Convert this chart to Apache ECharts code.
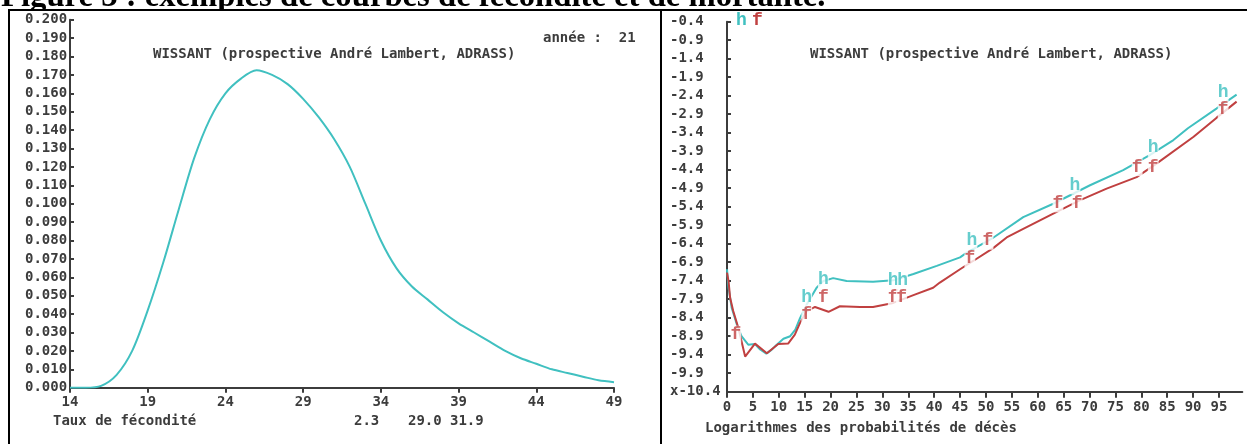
<!DOCTYPE html>
<html>
<head>
<meta charset="utf-8">
<script src="https://cdn.jsdelivr.net/npm/echarts@6/dist/echarts.min.js"></script>
<style>
  html, body { margin: 0; padding: 0; background: #fff; }
  #chart { width: 1247px; height: 444px; }
</style>
</head>
<body>
<div id="chart"></div>
<script>
// Fécondité : taux par âge (14 à 49 ans)
const fertAges = [14, 15, 16, 17, 18, 19, 20, 21, 22, 23, 24, 25, 26, 27, 28, 29, 30, 31,
                  32, 33, 34, 35, 36, 37, 38, 39, 40, 41, 42, 43, 44, 45, 46, 47, 48, 49];
const fertRates = [0.000, 0.000, 0.001, 0.007, 0.020, 0.042, 0.068, 0.097, 0.125, 0.146,
                   0.160, 0.168, 0.1725, 0.170, 0.165, 0.157, 0.147, 0.135, 0.120, 0.100,
                   0.080, 0.065, 0.055, 0.048, 0.041, 0.035, 0.030, 0.025, 0.020, 0.016,
                   0.013, 0.010, 0.008, 0.006, 0.004, 0.003];
const fertXTicks = [14, 19, 24, 29, 34, 39, 44, 49];

// Mortalité : logarithmes des probabilités de décès, hommes (h) et femmes (f)
const hAges = [0, 0.3, 0.9, 1.9, 2.8, 4.1, 5.4, 6.4, 7.6, 8.6, 9.6, 10.9, 12.2, 13.2, 14.1,
               15.4, 17.3, 18.6, 20.5, 23.1, 28.2, 32.1, 36, 40.5, 45, 46.3, 51.4, 57.2, 63,
               70.1, 76.5, 81.7, 86.2, 89, 94.5, 98.4];
const hLog = [-7.09, -7.59, -8.13, -8.58, -8.90, -9.13, -9.11, -9.26, -9.37, -9.27, -9.13,
              -8.97, -8.90, -8.72, -8.41, -8.04, -7.59, -7.41, -7.33, -7.41, -7.43, -7.39,
              -7.22, -7.00, -6.77, -6.64, -6.24, -5.68, -5.32, -4.82, -4.41, -4.00, -3.60,
              -3.28, -2.75, -2.37];
const fAges = [0, 0.3, 0.6, 1.2, 2.2, 3.5, 5.4, 7.7, 9.9, 11.8, 13.1, 14.1, 15.4, 17, 19.6,
               21.8, 25.7, 28.2, 32.1, 36, 39.8, 41.1, 45, 47.6, 51.4, 54, 57.2, 63, 68.1,
               73.3, 79.1, 83, 90.1, 94.5, 98.4];
const fLog = [-7.18, -7.41, -7.86, -8.22, -8.68, -9.45, -9.10, -9.36, -9.11, -9.10, -8.86,
              -8.54, -8.22, -8.11, -8.24, -8.09, -8.11, -8.11, -8.00, -7.79, -7.59, -7.45,
              -7.09, -6.86, -6.52, -6.23, -6.00, -5.59, -5.23, -4.91, -4.60, -4.23, -3.51,
              -3.00, -2.56];

// Repères "h" et "f" posés le long des courbes
const hMarkAges = [15.4, 18.6, 32.1, 33.9, 47.3, 67.2, 82.3, 95.8];
const hMarkLog = [-7.86, -7.36, -7.39, -7.39, -6.32, -4.82, -3.81, -2.32];
const fMarkAges = [1.7, 15.4, 18.6, 32.1, 33.7, 46.9, 50.4, 63.9, 67.6, 79.2, 82.3, 95.8];
const fMarkLog = [-8.86, -8.31, -7.86, -7.86, -7.86, -6.81, -6.32, -5.31, -5.31, -4.33, -4.33, -2.78];

const mortXTicks = [0, 5, 10, 15, 20, 25, 30, 35, 40, 45, 50, 55, 60, 65, 70, 75, 80, 85, 90, 95];
const mortYTicks = [-0.4, -0.9, -1.4, -1.9, -2.4, -2.9, -3.4, -3.9, -4.4, -4.9, -5.4, -5.9,
                    -6.4, -6.9, -7.4, -7.9, -8.4, -8.9, -9.4, -9.9, -10.4];

const TEAL = '#40c0c0';
const RED = '#c04040';
const INK = '#3c3c3c';
const MONO = 'bold 14px "DejaVu Sans Mono", "Liberation Mono", monospace';
const MARK_FONT = 'bold 18px "Liberation Mono", "DejaVu Sans Mono", monospace';

const zip = (a, b) => a.map((v, i) => [v, b[i]]);

const axisLineStyle = { color: INK, width: 2 };
const labelBase = { color: INK, fontFamily: '"DejaVu Sans Mono", "Liberation Mono", monospace',
                    fontWeight: 'bold', fontSize: 14 };

const chart = echarts.init(document.getElementById('chart'), null, { renderer: 'canvas' });

const markLabel = (txt, color) => ({
  show: true, position: 'inside', formatter: txt, color: color,
  fontFamily: '"Liberation Mono", "DejaVu Sans Mono", monospace',
  fontWeight: 'bold', fontSize: 18, backgroundColor: '#fff', padding: [0, 0]
});

chart.setOption({
  backgroundColor: '#fff',
  animation: false,
  grid: [
    { left: 70, top: 19.7, right: 633, bottom: 56.3, containLabel: false },
    { left: 727, top: 21.7, right: 4.7, bottom: 52.3, containLabel: false }
  ],
  xAxis: [
    {
      gridIndex: 0, type: 'value', min: 14, max: 49,
      axisLine: { lineStyle: axisLineStyle },
      axisTick: { customValues: fertXTicks, length: 5, lineStyle: axisLineStyle },
      axisLabel: Object.assign({ customValues: fertXTicks, margin: 8 }, labelBase),
      splitLine: { show: false }
    },
    {
      gridIndex: 1, type: 'value', min: 0, max: 99.5,
      axisLine: { lineStyle: axisLineStyle },
      axisTick: { customValues: mortXTicks, length: 6, lineStyle: axisLineStyle },
      axisLabel: Object.assign({ customValues: mortXTicks, margin: 9 }, labelBase),
      splitLine: { show: false }
    }
  ],
  yAxis: [
    {
      gridIndex: 0, type: 'value', min: 0, max: 0.2, interval: 0.01, z: 3,
      axisLine: { show: true, lineStyle: axisLineStyle },
      axisTick: { show: true, inside: true, length: 4, lineStyle: axisLineStyle },
      axisLabel: Object.assign({ interval: 0, align: 'left', margin: 45, padding: [0, 0, 8, 0],
                                 formatter: v => v.toFixed(3) }, labelBase),
      splitLine: { show: false }
    },
    {
      gridIndex: 1, type: 'value', min: -10.4, max: -0.4, z: 3,
      axisLine: { show: true, lineStyle: axisLineStyle },
      axisTick: { show: true, inside: true, length: 4, customValues: mortYTicks,
                  lineStyle: axisLineStyle },
      axisLabel: Object.assign({ customValues: mortYTicks, align: 'left', margin: 57,
                                 formatter: v => Math.abs(v + 10.4) < 1e-9 ? 'x-10.4' : v.toFixed(1) },
                               labelBase),
      splitLine: { show: false }
    }
  ],
  series: [
    {
      name: 'fécondité', type: 'line', xAxisIndex: 0, yAxisIndex: 0,
      data: zip(fertAges, fertRates), showSymbol: false, smooth: 0.3,
      lineStyle: { color: TEAL, width: 2 }, z: 4
    },
    {
      name: 'h', type: 'line', xAxisIndex: 1, yAxisIndex: 1,
      data: zip(hAges, hLog), showSymbol: false,
      lineStyle: { color: TEAL, width: 2 }, z: 4
    },
    {
      name: 'f', type: 'line', xAxisIndex: 1, yAxisIndex: 1,
      data: zip(fAges, fLog), showSymbol: false,
      lineStyle: { color: RED, width: 2 }, z: 4
    },
    {
      name: 'repères h', type: 'scatter', xAxisIndex: 1, yAxisIndex: 1,
      data: zip(hMarkAges, hMarkLog), symbolSize: 1,
      itemStyle: { color: 'rgba(0,0,0,0)' }, label: markLabel('h', TEAL), z: 6
    },
    {
      name: 'repères f', type: 'scatter', xAxisIndex: 1, yAxisIndex: 1,
      data: zip(fMarkAges, fMarkLog), symbolSize: 1,
      itemStyle: { color: 'rgba(0,0,0,0)' }, label: markLabel('f', RED), z: 6
    }
  ],
  graphic: [
    { type: 'text', x: 1, y: -2, z: 0,
      style: { text: 'Figure 3 : exemples de courbes de fécondité et de mortalité.',
               font: 'bold 32.7px "Liberation Serif", "DejaVu Serif", serif', fill: '#000',
               verticalAlign: 'middle' } },
    { type: 'rect', z: 1, shape: { x: 0, y: 11, width: 1247, height: 9 }, style: { fill: '#fff' } },
    { type: 'rect', z: 2, shape: { x: 8, y: 9, width: 1239, height: 2 }, style: { fill: '#000' } },
    { type: 'rect', z: 2, shape: { x: 8, y: 9, width: 2, height: 435 }, style: { fill: '#000' } },
    { type: 'rect', z: 2, shape: { x: 660, y: 9, width: 2, height: 435 }, style: { fill: '#000' } },
    { type: 'text', x: 543, y: 38, z: 3,
      style: { text: 'année :  21', font: MONO, fill: INK, verticalAlign: 'middle' } },
    { type: 'text', x: 153, y: 54, z: 3,
      style: { text: 'WISSANT (prospective André Lambert, ADRASS)', font: MONO, fill: INK, verticalAlign: 'middle' } },
    { type: 'text', x: 810, y: 54, z: 3,
      style: { text: 'WISSANT (prospective André Lambert, ADRASS)', font: MONO, fill: INK, verticalAlign: 'middle' } },
    { type: 'text', x: 53, y: 421, z: 3,
      style: { text: 'Taux de fécondité', font: MONO, fill: INK, verticalAlign: 'middle' } },
    { type: 'text', x: 354, y: 421, z: 3,
      style: { text: '2.3', font: MONO, fill: INK, verticalAlign: 'middle' } },
    { type: 'text', x: 408, y: 421, z: 3,
      style: { text: '29.0', font: MONO, fill: INK, verticalAlign: 'middle' } },
    { type: 'text', x: 450, y: 421, z: 3,
      style: { text: '31.9', font: MONO, fill: INK, verticalAlign: 'middle' } },
    { type: 'text', x: 705, y: 428, z: 3,
      style: { text: 'Logarithmes des probabilités de décès', font: MONO, fill: INK, verticalAlign: 'middle' } },
    { type: 'text', x: 736, y: 20, z: 4,
      style: { text: 'h', font: MARK_FONT, fill: TEAL, verticalAlign: 'middle' } },
    { type: 'text', x: 752, y: 20, z: 4,
      style: { text: 'f', font: MARK_FONT, fill: RED, verticalAlign: 'middle' } }
  ]
});
</script>
</body>
</html>
